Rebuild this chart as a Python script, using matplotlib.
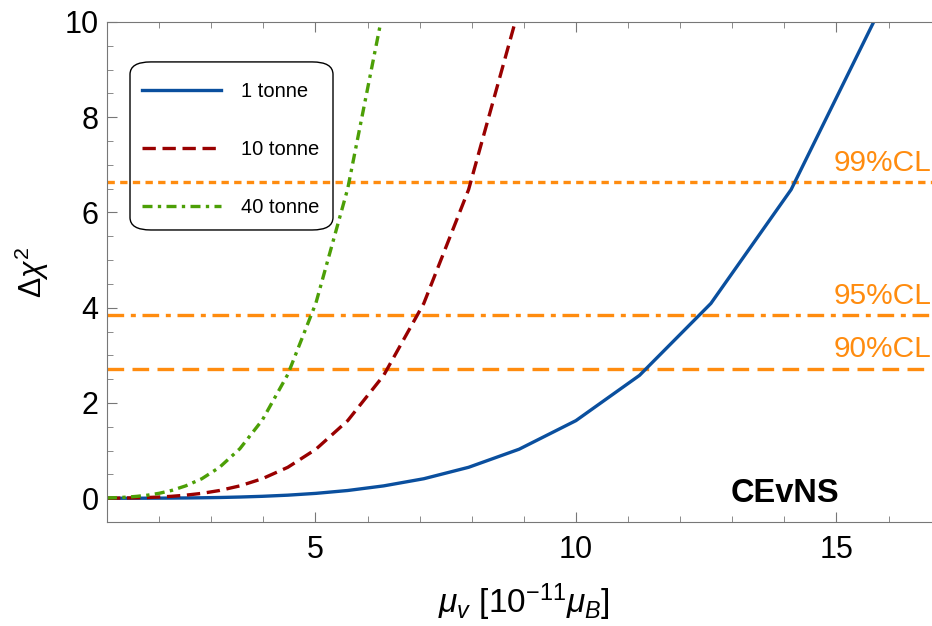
import matplotlib.pyplot as plt
from matplotlib.patches import FancyBboxPatch

plt.rcParams['font.family'] = ['Liberation Sans', 'DejaVu Sans']
plt.rcParams['mathtext.fontset'] = 'custom'
plt.rcParams['mathtext.rm'] = 'Liberation Sans'
plt.rcParams['mathtext.it'] = 'Liberation Sans:italic'

# magnetic moment grid (log spaced) in units of 1e-11 mu_B
mu = [1.0, 1.12, 1.26, 1.41, 1.58, 1.78, 2.0, 2.24, 2.51, 2.82, 3.16, 3.55,
      3.98, 4.47, 5.01, 5.62, 6.31, 7.08, 7.94, 8.91, 10.0, 11.22, 12.59,
      14.13, 15.85]

chi_1t = [0.0002, 0.0003, 0.0004, 0.0007, 0.001, 0.0016, 0.0026, 0.0041,
          0.0065, 0.0103, 0.016, 0.026, 0.041, 0.065, 0.103, 0.163, 0.26,
          0.41, 0.65, 1.03, 1.63, 2.58, 4.09, 6.48, 10.3]
chi_10t = [0.0016, 0.0026, 0.0041, 0.0065, 0.010, 0.016, 0.026, 0.041,
           0.065, 0.103, 0.163, 0.26, 0.41, 0.65, 1.03, 1.63, 2.58, 4.09,
           6.48, 10.3]
chi_40t = [0.0065, 0.0104, 0.0164, 0.026, 0.041, 0.065, 0.104, 0.164,
           0.26, 0.41, 0.65, 1.04, 1.64, 2.6, 4.1, 6.5, 10.3]

cl_values = [6.63, 3.84, 2.71]
cl_labels = ["99%CL", "95%CL", "90%CL"]
cl_styles = [(0, (2.2, 1.6)), (0, (5, 2, 1.5, 2)), (0, (5, 2.5))]

orange = "#ff8c0f"

fig = plt.figure(figsize=(9.32, 6.26), dpi=100)
ax = fig.add_axes([0.1148, 0.166, 0.8945, 0.799])

ax.plot(mu, chi_1t, color="#0a4f9e", lw=2.4, label="1 tonne")
ax.plot(mu[:len(chi_10t)], chi_10t, color="#990000", lw=2.4,
        ls=(0, (4, 2)), label="10 tonne")
ax.plot(mu[:len(chi_40t)], chi_40t, color="#4c9f06", lw=2.4,
        ls=(0, (3, 1.6, 1, 1.6)), label="40 tonne")

for val, lab, st in zip(cl_values, cl_labels, cl_styles):
    ax.axhline(val, color=orange, lw=2.4, ls=st, zorder=1)
    ax.text(16.82, val + 0.12, lab, color=orange, fontsize=21.5,
            ha="right", va="bottom")

ax.text(15.05, -0.08, "CEvNS", fontsize=23.5, fontweight="bold",
        ha="right", va="baseline")

ax.set_xlim(1, 17)
ax.set_ylim(-0.5, 10)
ax.set_xticks([5, 10, 15])
ax.set_xticks(range(1, 18), minor=True)
ax.set_yticks([0, 2, 4, 6, 8, 10])
ax.set_yticks([i * 0.5 for i in range(-1, 21)], minor=True)
ax.tick_params(which="both", direction="in", top=True, right=False,
               color="#777777", labelsize=22)
ax.tick_params(axis="y", pad=6)
ax.tick_params(axis="x", pad=9)
ax.tick_params(which="major", length=7)
ax.tick_params(which="minor", length=4)
for side in ["left", "bottom", "top"]:
    ax.spines[side].set_color("#777777")
ax.spines["right"].set_visible(False)

ax.set_xlabel(r"$\mu_v\ [10^{-11}\mu_B]$", fontsize=24, labelpad=12)
ax.set_ylabel(r"$\Delta\chi^2$", fontsize=22, labelpad=10)

# legend entries without their own frame, rounded box drawn separately
leg = ax.legend(loc="upper left", bbox_to_anchor=(0.042, 0.879),
                borderaxespad=0, borderpad=0, fontsize=14.5,
                handlelength=3.9, labelspacing=1.92, handletextpad=1.0,
                frameon=False)
box = FancyBboxPatch((0.0276, 0.584), 0.2435, 0.336,
                     boxstyle="round,pad=0,rounding_size=0.025",
                     transform=ax.transAxes, facecolor="none",
                     edgecolor="black", lw=1.0, zorder=1.5)
ax.add_patch(box)

fig.savefig("out.png", dpi=100)
